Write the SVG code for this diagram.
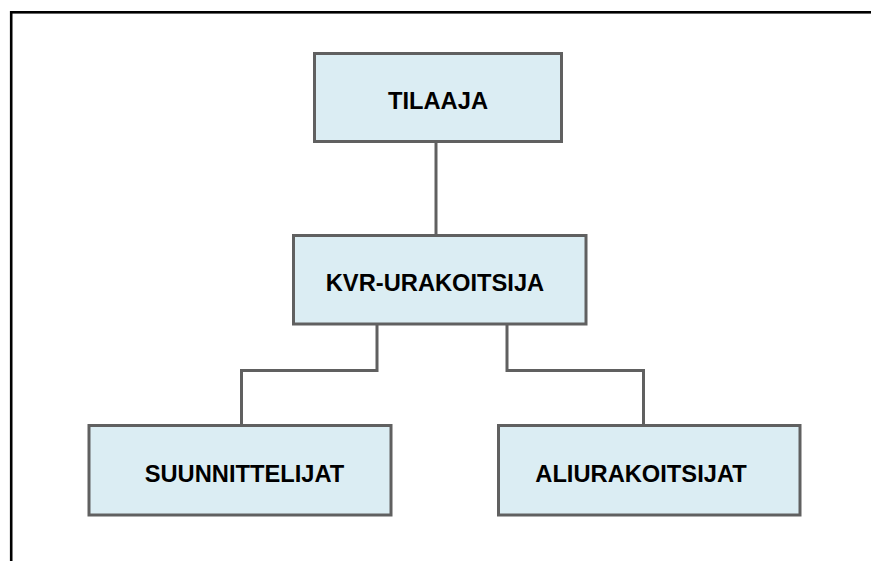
<svg xmlns="http://www.w3.org/2000/svg" width="871" height="561" viewBox="0 0 871 561">
  <style>
    .box { fill: #dbedf3; stroke: #606060; stroke-width: 3; }
    .lbl { font-family: "Liberation Sans", Arial, sans-serif; font-weight: bold; font-size: 23.7px; fill: #000; text-anchor: middle; }
    .conn { fill: none; stroke: #606060; stroke-width: 3; }
  </style>
  <rect width="871" height="561" fill="#fff"/>
  <!-- page frame, open to the right and bottom -->
  <rect x="11.2" y="12.3" width="900" height="600" fill="none" stroke="#000" stroke-width="2.6"/>

  <g id="connectors">
    <path class="conn" d="M436 141.5 V235.5"/>
    <path class="conn" d="M377 325 V370.5 H241.5 V424.5"/>
    <path class="conn" d="M507 325 V370.5 H643.5 V424.5"/>
  </g>

  <g id="tilaaja">
    <rect class="box" x="314.5" y="53.5" width="247" height="88"/>
    <text class="lbl" x="438" y="109">TILAAJA</text>
  </g>
  <g id="kvr-urakoitsija">
    <rect class="box" x="293.5" y="235.5" width="292.5" height="88.5"/>
    <text class="lbl" x="435" y="290.5">KVR-URAKOITSIJA</text>
  </g>
  <g id="suunnittelijat">
    <rect class="box" x="89" y="425.5" width="302" height="89.5"/>
    <text class="lbl" x="244.5" y="482">SUUNNITTELIJAT</text>
  </g>
  <g id="aliurakoitsijat">
    <rect class="box" x="498.5" y="425.5" width="301.5" height="89.5"/>
    <text class="lbl" x="641" y="482">ALIURAKOITSIJAT</text>
  </g>
</svg>
